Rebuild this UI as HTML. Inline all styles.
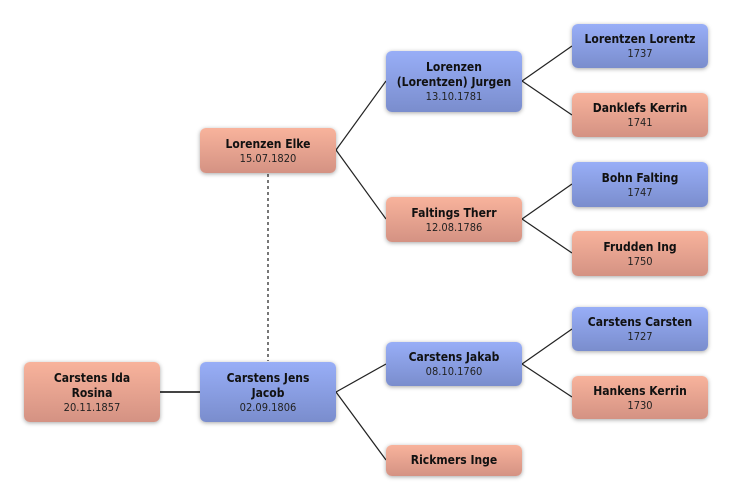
<!DOCTYPE html>
<html><head><meta charset="utf-8"><style>
html,body{margin:0;padding:0;background:#fff;}
body{width:732px;height:501px;position:relative;overflow:hidden;font-family:"DejaVu Sans","Liberation Sans",sans-serif;}
svg{position:absolute;left:0;top:0;}
.b{position:absolute;box-sizing:border-box;border-radius:6px;display:flex;flex-direction:column;justify-content:center;align-items:center;text-align:center;color:#111;box-shadow:0 1px 4px rgba(0,0,0,.35);}
.m{background:linear-gradient(#98aef7,#7a8dcd);}
.f{background:linear-gradient(#f8b39c,#d49283);}
.n{font-family:"DejaVu Sans Condensed","DejaVu Sans",sans-serif;font-stretch:condensed;font-weight:bold;font-size:12px;line-height:15px;}
.d{font-family:"DejaVu Sans Condensed","DejaVu Sans",sans-serif;font-stretch:condensed;font-size:11px;line-height:13px;color:#222;}
</style></head><body>
<svg width="732" height="501">
<g stroke="#222" stroke-width="1.2" fill="none">
<line x1="160" y1="392" x2="200" y2="392" stroke="#444" stroke-width="2"/>
<line x1="336" y1="392" x2="386" y2="364"/>
<line x1="336" y1="392" x2="386" y2="460"/>
<line x1="336" y1="150" x2="386" y2="81"/>
<line x1="336" y1="150" x2="386" y2="219"/>
<line x1="522" y1="81" x2="572" y2="46"/>
<line x1="522" y1="81" x2="572" y2="115"/>
<line x1="522" y1="219" x2="572" y2="184"/>
<line x1="522" y1="219" x2="572" y2="253"/>
<line x1="522" y1="364" x2="572" y2="329"/>
<line x1="522" y1="364" x2="572" y2="397"/>
<line x1="268" y1="174" x2="268" y2="361" stroke="#777" stroke-width="2" stroke-dasharray="3 3"/>
</g>
</svg>

<div class="b f" style="left:24px;top:362px;width:136px;height:60px;"><div class="n">Carstens Ida<br>Rosina</div><div class="d">20.11.1857</div></div>
<div class="b m" style="left:200px;top:362px;width:136px;height:60px;"><div class="n">Carstens Jens<br>Jacob</div><div class="d">02.09.1806</div></div>
<div class="b f" style="left:200px;top:128px;width:136px;height:45px;"><div class="n">Lorenzen Elke</div><div class="d">15.07.1820</div></div>

<div class="b m" style="left:386px;top:51px;width:136px;height:61px;"><div class="n">Lorenzen<br>(Lorentzen) Jurgen</div><div class="d">13.10.1781</div></div>
<div class="b f" style="left:386px;top:197px;width:136px;height:45px;"><div class="n">Faltings Therr</div><div class="d">12.08.1786</div></div>
<div class="b m" style="left:386px;top:342px;width:136px;height:44px;"><div class="n">Carstens Jakab</div><div class="d">08.10.1760</div></div>
<div class="b f" style="left:386px;top:445px;width:136px;height:31px;"><div class="n">Rickmers Inge</div></div>

<div class="b m" style="left:572px;top:24px;width:136px;height:44px;"><div class="n">Lorentzen Lorentz</div><div class="d">1737</div></div>
<div class="b f" style="left:572px;top:93px;width:136px;height:44px;"><div class="n">Danklefs Kerrin</div><div class="d">1741</div></div>
<div class="b m" style="left:572px;top:162px;width:136px;height:45px;"><div class="n">Bohn Falting</div><div class="d">1747</div></div>
<div class="b f" style="left:572px;top:231px;width:136px;height:45px;"><div class="n">Frudden Ing</div><div class="d">1750</div></div>
<div class="b m" style="left:572px;top:307px;width:136px;height:44px;"><div class="n">Carstens Carsten</div><div class="d">1727</div></div>
<div class="b f" style="left:572px;top:376px;width:136px;height:43px;"><div class="n">Hankens Kerrin</div><div class="d">1730</div></div>
</body></html>
